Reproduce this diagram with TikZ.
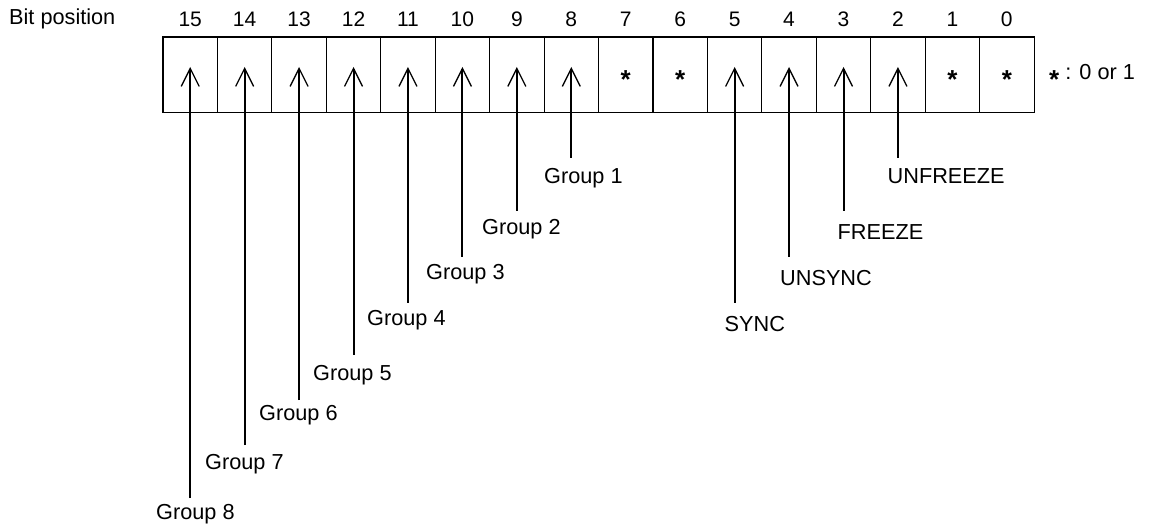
\documentclass[tikz,border=0pt]{standalone}
\usepackage{fontspec}
\setmainfont{Liberation Sans}
\usetikzlibrary{arrows.meta}
\begin{document}
\begin{tikzpicture}[x=1pt,y=-1pt,
  bitbox/.style={draw,line width=1.1pt,minimum width=54.44pt,minimum height=75.5pt,inner sep=0pt,outer sep=0pt},
  numtext/.style={font=\fontsize{21}{25}\selectfont,inner sep=0pt,anchor=base},
  startext/.style={font=\fontsize{26}{30}\selectfont\bfseries,inner sep=0pt,anchor=base},
  lbl/.style={font=\fontsize{21.7}{26}\selectfont,inner sep=0pt,anchor=base west},
  ptr/.style={line width=2pt,-{Straight Barb[length=18pt,width=18pt,line width=1.3pt]}}]
\useasboundingbox (0,0) rectangle (1156,526);
\node[lbl] (title) at (9,25) {Bit position};
\foreach \b in {15,...,0} {
  \pgfmathsetmacro{\bx}{163+(15-\b+0.5)*54.44}
  \node[bitbox] (b\b) at (\bx,74.75) {};
  \node[numtext] (n\b) at (\bx,26.5) {\b};
}
\foreach \b in {7,6,1,0} {
  \pgfmathsetmacro{\bx}{163+(15-\b+0.5)*54.44}
  \node[startext] (s\b) at (\bx,88.5) {*};
}
\foreach \b/\yy in {15/498,14/445,13/400,12/355,11/303,10/257,9/211,8/158,5/303,4/257,3/211,2/158} {
  \pgfmathsetmacro{\bx}{163+(15-\b+0.5)*54.44}
  \coordinate (e\b) at (\bx,\yy);
  \draw[ptr] (e\b) -- ([yshift=-30pt]b\b.north);
}
\node[lbl] (g1) at (544,184) {Group 1};
\node[lbl] (g2) at (482,234.3) {Group 2};
\node[lbl] (g3) at (426,279.3) {Group 3};
\node[lbl] (g4) at (367,325.3) {Group 4};
\node[lbl] (g5) at (313,380) {Group 5};
\node[lbl] (g6) at (259,420.7) {Group 6};
\node[lbl] (g7) at (205,469) {Group 7};
\node[lbl] (g8) at (156,519) {Group 8};
\node[lbl] (unfreeze) at (887.5,184) {UNFREEZE};
\node[lbl] (freeze) at (837.5,240) {FREEZE};
\node[lbl] (unsync) at (780,286) {UNSYNC};
\node[lbl] (sync) at (724.5,331.7) {SYNC};
\node[lbl] (legend) at (1049,79.3) {\raisebox{-9pt}{\fontsize{26}{30}\selectfont\bfseries *} : 0 or 1};
\end{tikzpicture}
\end{document}
